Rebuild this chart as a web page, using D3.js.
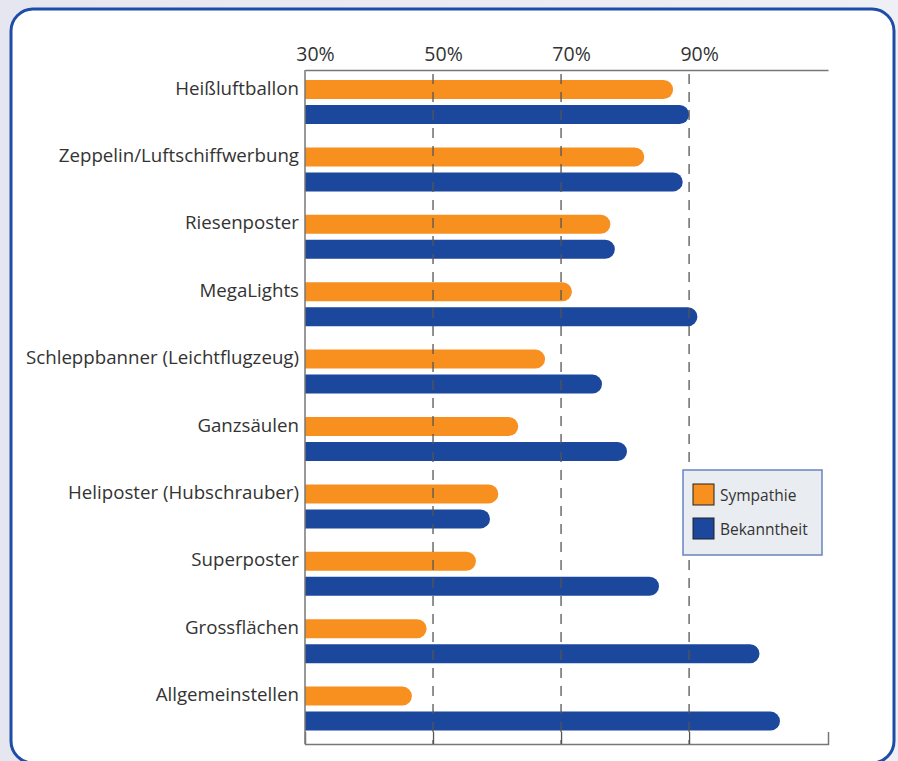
<!DOCTYPE html>
<html>
<head>
<meta charset="utf-8">
<script src="https://cdn.jsdelivr.net/npm/d3@7"></script>
<style>
    body { margin: 0; background: #eceef4; }
    .chart text { font-family: "Open Sans", "Noto Sans", sans-serif; fill: #333; }
</style>
</head>
<body>
<div class="chart"></div>
<script>
"use strict";

const categories = [
    "Heißluftballon",
    "Zeppelin/Luftschiffwerbung",
    "Riesenposter",
    "MegaLights",
    "Schleppbanner (Leichtflugzeug)",
    "Ganzsäulen",
    "Heliposter (Hubschrauber)",
    "Superposter",
    "Grossflächen",
    "Allgemeinstellen"
];
const sympathie = [87.5, 83, 77.7, 71.7, 67.5, 63.3, 60.2, 56.7, 49, 46.7];
const bekanntheit = [90, 89, 78.4, 91.3, 76.4, 80.3, 58.9, 85.3, 101, 104.2];
const ticks = [30, 50, 70, 90];
const series = [
    { name: "Sympathie", values: sympathie, color: "#f7901e" },
    { name: "Bekanntheit", values: bekanntheit, color: "#1b479c" }
];

window.onload = () => main();

function main() {
    const width = 898, height = 761;
    const margin = { top: 70, left: 305, right: 70, bottom: 17 };

    const svg = d3.select(".chart")
        .append("svg")
        .attr("width", width)
        .attr("height", height);

    // background and frame
    const bg = svg.append("defs").append("linearGradient")
        .attr("id", "bg").attr("x1", 0).attr("x2", 1).attr("y1", 0).attr("y2", 0);
    bg.append("stop").attr("offset", "0%").attr("stop-color", "#e6e6f0");
    bg.append("stop").attr("offset", "100%").attr("stop-color", "#eef0f5");
    svg.append("rect").attr("width", width).attr("height", height).attr("fill", "url(#bg)");
    svg.append("rect")
        .attr("x", 11).attr("y", 9)
        .attr("width", 883).attr("height", 754)
        .attr("rx", 22)
        .attr("fill", "#fff")
        .attr("stroke", "#1d4da6")
        .attr("stroke-width", 3);

    const x = d3.scaleLinear()
        .domain([30, 111.7])
        .range([margin.left, width - margin.right]);

    const y = d3.scaleBand()
        .domain(categories)
        .range([margin.top, height - margin.bottom]);

    const barH = 19, gap = 6, offset = 10;

    // bars with rounded right end
    const barPath = (x0, x1, y0, h) => {
        const r = h / 2;
        const p = d3.path();
        p.moveTo(x0, y0);
        p.lineTo(x1 - r, y0);
        p.arc(x1 - r, y0 + r, r, -Math.PI / 2, Math.PI / 2);
        p.lineTo(x0, y0 + h);
        p.closePath();
        return p.toString();
    };

    series.forEach((s, i) => {
        svg.append("g")
            .selectAll("path")
            .data(categories)
            .join("path")
            .attr("fill", s.color)
            .attr("d", (d, j) => barPath(x(30), x(s.values[j]), y(d) + offset + i * (barH + gap), barH));
    });

    // dashed grid lines over bars
    svg.append("g")
        .selectAll("line")
        .data(ticks.slice(1))
        .join("line")
        .attr("x1", d => x(d)).attr("x2", d => x(d))
        .attr("y1", margin.top).attr("y2", height - margin.bottom)
        .attr("stroke", "#555")
        .attr("stroke-width", 1.3)
        .attr("stroke-dasharray", "10,8")
        .attr("stroke-dashoffset", -4);

    // top axis
    const top = svg.append("g")
        .attr("transform", `translate(0,${margin.top})`)
        .call(d3.axisTop(x).tickValues(ticks).tickFormat(d => d + "%").tickSize(0).tickPadding(9));
    top.select(".domain").attr("stroke", "#777").attr("stroke-width", 1.5);
    top.selectAll("text").attr("font-size", 19.5).attr("dx", 10).attr("fill", "#333");

    // bottom axis line with small ticks
    const bottom = svg.append("g")
        .attr("transform", `translate(0,${height - margin.bottom})`)
        .call(d3.axisTop(x).tickValues(ticks.slice(1)).tickFormat("").tickSizeOuter(0).tickSize(12));
    bottom.select(".domain").attr("stroke", "#777").attr("stroke-width", 1.5);
    bottom.selectAll(".tick line").attr("stroke", "#555").attr("stroke-width", 1.3);

    // left axis line
    svg.append("line")
        .attr("x1", x(30)).attr("x2", x(30))
        .attr("y1", margin.top).attr("y2", height - margin.bottom)
        .attr("stroke", "#777").attr("stroke-width", 1.5);

    // category labels
    svg.append("g")
        .selectAll("text")
        .data(categories)
        .join("text")
        .attr("x", margin.left - 6)
        .attr("y", d => y(d) + offset + barH / 2)
        .attr("text-anchor", "end")
        .attr("dominant-baseline", "middle")
        .attr("font-size", 18.7)
        .text(d => d);

    // legend
    const legend = svg.append("g").attr("transform", "translate(683,470)");
    legend.append("rect")
        .attr("width", 139).attr("height", 85)
        .attr("fill", "#e9ecf1")
        .attr("stroke", "#6a84c0").attr("stroke-width", 1.5);
    series.forEach((s, i) => {
        const g = legend.append("g").attr("transform", `translate(10,${14 + i * 34})`);
        g.append("rect")
            .attr("width", 21).attr("height", 21)
            .attr("fill", s.color)
            .attr("stroke", "#222").attr("stroke-width", 1);
        g.append("text")
            .attr("x", 27).attr("y", 13)
            .attr("dominant-baseline", "middle")
            .attr("font-size", 15.5)
            .text(s.name);
    });
}
</script>
</body>
</html>
